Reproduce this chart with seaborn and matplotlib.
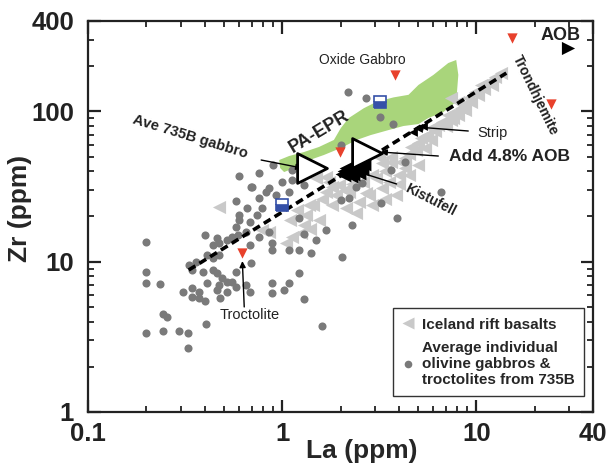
"""
La vs Zr (ppm) for 735B gabbros, Iceland rift basalts and PA-EPR field.
"""

import matplotlib
matplotlib.use("Agg")
import matplotlib.pyplot as plt
import seaborn as sns
from matplotlib.lines import Line2D
from matplotlib.patches import Polygon
from matplotlib.ticker import FixedLocator, NullFormatter

sns.set_theme(style="ticks")
plt.rcParams["font.family"] = ["Liberation Sans", "DejaVu Sans"]

# Average individual olivine gabbros & troctolites from 735B
GABBRO_LA = [0.60, 0.69, 0.58, 0.60, 0.60, 0.58, 0.66, 0.20, 0.40,
             0.46, 0.44, 0.475, 0.52, 0.555, 0.59, 0.65,
             0.41, 0.44, 0.475, 0.33, 0.36, 0.345, 0.20, 0.20, 0.234,
             0.39, 0.44, 0.46, 0.49, 0.52, 0.475, 0.555, 0.58,
             0.31, 0.345, 0.375, 0.41, 0.46, 0.52, 0.58, 0.65, 0.68,
             0.345, 0.20, 0.243, 0.293, 0.326, 0.326, 0.403, 0.243, 0.254, 0.375, 0.40, 0.48,
             0.90, 1.125, 0.70, 0.83, 1.0, 1.125, 1.30,
             0.76, 0.86, 0.93, 1.09, 0.79, 0.74, 0.68,
             1.22, 0.86, 0.89, 0.76, 0.68,
             1.68, 1.49, 1.30, 2.29, 3.22, 3.89,
             1.22, 1.41, 1.09, 2.03,
             0.89, 0.69, 1.22, 0.89, 1.09, 1.02, 0.89, 1.29,
             2.0, 2.2, 2.4, 2.57, 3.66, 4.32,
             1.60, 6.6, 2.18, 2.70, 3.18, 3.71, 2.01, 0.76]
GABBRO_ZR = [37.2, 31.4, 25.3, 20.5, 18.9, 17.0, 22.8, 13.5, 15.1,
             14.4, 12.9, 13.3, 13.9, 14.6, 15.1, 15.8,
             11.1, 10.6, 11.1, 9.5, 9.9, 8.8, 8.5, 7.2, 7.1,
             8.5, 8.8, 8.4, 7.8, 7.3, 7.0, 7.3, 8.5,
             6.3, 6.7, 6.3, 7.2, 6.5, 6.3, 6.8, 7.0, 6.3,
             5.8, 3.35, 3.46, 3.46, 3.35, 2.67, 3.85, 4.5, 4.3, 5.7, 5.5, 5.7,
             44.0, 40.7, 31.4, 29.1, 33.9, 35.0, 32.4,
             26.5, 31.0, 28.0, 29.0, 22.8, 20.5, 18.4,
             19.5, 15.8, 13.3, 14.6, 12.9,
             16.3, 13.9, 15.3, 17.5, 24.6, 19.5,
             12.0, 11.4, 12.0, 10.7,
             12.0, 9.8, 8.4, 7.2, 7.2, 6.5, 6.2, 5.65,
             25.7, 26.5, 31.4, 33.4, 40.7, 46.1,
             3.73, 29.1, 135, 123, 91.8, 82.4, 59.8, 38.9]

# Iceland rift basalts
ICELAND_LA = [1.49, 1.74, 1.96, 1.68, 1.89, 2.21, 2.48, 2.79, 3.26,
              3.54, 3.98, 4.32, 3.03, 3.85, 1.80, 2.13, 1.33, 1.37,
              1.125, 0.86, 1.05, 0.79, 3.66, 3.26, 4.32,
              5.22, 5.88, 6.38, 7.18, 7.80, 8.09, 9.10, 9.89, 10.6, 11.5, 12.5, 13.4, 7.45, 8.38, 5.47,
              3.14, 3.66, 4.64, 5.88, 7.45, 8.79, 1.68, 1.80, 0.475, 2.70,
              5.0, 5.6, 6.1, 6.7, 7.0, 7.6, 8.1, 8.6, 9.4, 10.2, 11.0, 12.0,
              4.9, 4.5, 4.1, 3.4, 2.9, 2.6, 2.3, 2.1, 1.6, 1.45, 1.2, 1.1,
              1.3, 1.55, 2.4, 2.9, 3.4, 4.5, 5.0, 4.0, 1.25, 1.4]
ICELAND_ZR = [36.0, 33.9, 32.4, 29.1, 27.8, 29.1, 25.0, 27.8, 30.9,
              33.9, 37.8, 42.0, 36.0, 27.8, 23.8, 22.8, 20.5, 23.8,
              14.6, 15.8, 13.3, 16.3, 46.1, 45.4, 49.0,
              66.5, 77.6, 81.3, 94.6, 99.0, 116, 123, 135, 150, 157, 169, 180, 123, 105, 57.1,
              49.8, 49.8, 58.0, 64.6, 87.7, 102, 36.6, 31.4, 23.1, 28.7,
              62, 70, 74, 85, 80, 90, 95, 110, 115, 128, 140, 150,
              55, 52, 46, 40, 38, 34, 33, 30, 26, 24, 22, 19,
              17.5, 19, 21, 24, 26, 38, 44, 33, 15.5, 16.5]

# Kistufell and Strip (black)
KISTUFELL_LA = [2.05, 2.2, 2.35, 2.5, 2.25, 2.45, 2.6, 2.15, 2.3, 2.4, 2.1, 2.55]
KISTUFELL_ZR = [38.5, 40.5, 42.5, 44.5, 37.5, 39.5, 45.5, 42.0, 39.0, 43.0, 40.0, 42.0]
STRIP_LA = [4.7, 5.0, 5.3]
STRIP_ZR = [73, 77, 80]

# Oxide gabbro, trondhjemite, troctolite (red)
RED_LA = [3.80, 1.98, 15.3, 24.3, 0.624]
RED_ZR = [175, 53.7, 308, 112, 11.4]

# blue squares
BLUE_LA = [1.0, 3.18]
BLUE_ZR = [23.8, 116]

# Ave 735B gabbro, Add 4.8% AOB
OPEN_LA = [1.425, 2.73]
OPEN_ZR = [42.0, 52.9]

AOB_LA = [29.6]
AOB_ZR = [264]

# mixing line
LINE_LA = [0.33, 14.3]
LINE_ZR = [8.8, 180]

# PA-EPR field outline
EPR_LA = [0.966, 1.086, 1.297, 1.548, 1.849, 2.008, 2.206, 2.634, 3.07, 3.75, 4.48, 5.04,
          6.02, 7.18, 7.89, 8.09, 7.89, 6.77, 5.67, 5.04, 4.22, 3.54, 2.858, 2.424,
          2.008, 1.642, 1.297, 1.153, 1.024, 0.977]
EPR_ZR = [47.5, 50.5, 53.7, 58.0, 64.6, 77.6, 90.4, 105, 116, 124, 129, 150,
          175, 210, 220, 175, 116, 99, 90.4, 82.4, 80.0, 75.2, 69.6, 64.6,
          57.1, 51.3, 46.1, 42.0, 39.5, 42.0]

X_TICKS = [0.1, 1, 10, 40]
Y_TICKS = [1, 10, 100, 400]

GRAY = "#7a7a7a"
LIGHT = "#c9c9c9"
RED = "#e8412c"
GREEN = "#a9d57b"
BLUE = "#3550a8"


def arrow(ax, start, end):
    ax.annotate("", xy=end, xytext=start,
                arrowprops=dict(arrowstyle="-|>", color="black", lw=1.0,
                                mutation_scale=9, shrinkA=0, shrinkB=0))


def main():
    fig = plt.figure(figsize=(6.1, 4.68), dpi=100)
    ax = fig.add_axes([0.1443, 0.1197, 0.8279, 0.8355])
    ax.set_xscale("log")
    ax.set_yscale("log")
    ax.set_xlim(0.1, 40)
    ax.set_ylim(1, 400)

    ax.add_patch(Polygon(list(zip(EPR_LA, EPR_ZR)), closed=True,
                         facecolor=GREEN, edgecolor="none", zorder=1))

    sns.scatterplot(x=ICELAND_LA, y=ICELAND_ZR, marker="<", s=90, color=LIGHT,
                    linewidth=0, ax=ax, zorder=2)
    sns.scatterplot(x=GABBRO_LA, y=GABBRO_ZR, marker="o", s=34, color=GRAY,
                    linewidth=0, ax=ax, zorder=3)
    sns.lineplot(x=LINE_LA, y=LINE_ZR, color="black", lw=2.6, ax=ax, zorder=4,
                 dashes=(2.2, 1.3), estimator=None, sort=False)
    sns.scatterplot(x=KISTUFELL_LA, y=KISTUFELL_ZR, marker="<", s=130, color="black",
                    linewidth=0, ax=ax, zorder=5)
    sns.scatterplot(x=STRIP_LA, y=STRIP_ZR, marker="<", s=40, color="black",
                    linewidth=0, ax=ax, zorder=5)
    sns.scatterplot(x=RED_LA, y=RED_ZR, marker="v", s=55, color=RED,
                    linewidth=0, ax=ax, zorder=5)
    sns.scatterplot(x=AOB_LA, y=AOB_ZR, marker=">", s=90, color="black",
                    linewidth=0, ax=ax, zorder=5)
    ax.plot(BLUE_LA, BLUE_ZR, ls="none", marker="s", ms=8, fillstyle="bottom",
            markerfacecolor=BLUE, markerfacecoloralt="white", mec=BLUE, mew=1.2, zorder=5)
    sns.scatterplot(x=OPEN_LA, y=OPEN_ZR, marker=">", s=460, color="white",
                    edgecolor="black", linewidth=2.0, ax=ax, zorder=6)

    # annotations
    tc = "#222222"
    ax.text(2.6, 220, "Oxide Gabbro", fontsize=10, color=tc, ha="center", va="center")
    ax.text(27.3, 322, "AOB", fontsize=13, fontweight="bold", color=tc, ha="center", va="center")
    ax.text(20.1, 129, "Trondhjemite", fontsize=10, fontweight="bold", color=tc,
            rotation=-64, ha="center", va="center")
    ax.text(1.55, 73, "PA-EPR", fontsize=13, fontweight="bold", color=tc,
            rotation=31, ha="center", va="center")
    ax.text(0.335, 67.6, "Ave 735B gabbro", fontsize=10.5, fontweight="bold", color=tc,
            rotation=-17, ha="center", va="center")
    ax.text(12.1, 71.8, "Strip", fontsize=10.5, color=tc, ha="center", va="center")
    ax.text(14.9, 49.8, "Add 4.8% AOB", fontsize=12.5, fontweight="bold", color=tc,
            ha="center", va="center")
    ax.text(5.8, 25.7, "Kistufell", fontsize=10, fontweight="bold", color=tc,
            rotation=-27, ha="center", va="center")
    ax.text(0.678, 4.42, "Troctolite", fontsize=10.5, color=tc, ha="center", va="center")

    arrow(ax, (0.78, 47.5), (1.27, 42.0))
    arrow(ax, (9.1, 74.1), (4.92, 78.8))
    arrow(ax, (6.38, 50.5), (3.22, 53.7))
    arrow(ax, (3.89, 32.9), (2.40, 40.1))
    arrow(ax, (0.638, 5.0), (0.624, 10.1))

    # axes and ticks
    ax.xaxis.set_major_locator(FixedLocator(X_TICKS))
    ax.set_xticklabels([str(t) for t in X_TICKS])
    ax.xaxis.set_minor_locator(FixedLocator(
        [m * d for d in (0.1, 1) for m in range(2, 10)] + [20, 30]))
    ax.xaxis.set_minor_formatter(NullFormatter())
    ax.yaxis.set_major_locator(FixedLocator(Y_TICKS))
    ax.set_yticklabels([str(t) for t in Y_TICKS])
    ax.yaxis.set_minor_locator(FixedLocator(
        [m * d for d in (1, 10) for m in range(2, 10)] + [200, 300]))
    ax.yaxis.set_minor_formatter(NullFormatter())

    ax.tick_params(which="both", direction="in", top=True, right=True, colors="#222222")
    ax.tick_params(which="major", length=9, width=1.6, labelsize=18.5)
    ax.tick_params(axis="x", which="major", pad=7)
    ax.tick_params(axis="y", which="major", pad=10)
    ax.tick_params(which="minor", length=4.5, width=1.3)
    for lab in ax.get_xticklabels() + ax.get_yticklabels():
        lab.set_fontweight("bold")
    for sp in ax.spines.values():
        sp.set_linewidth(1.6)
        sp.set_color("#222222")

    ax.set_xlabel("La (ppm)", fontsize=19, fontweight="bold")
    ax.xaxis.set_label_coords(0.543, -0.068)
    ax.set_ylabel("Zr (ppm)", fontsize=19, fontweight="bold")
    ax.yaxis.set_label_coords(-0.11, 0.52)

    handles = [
        Line2D([], [], ls="none", marker="<", ms=9, color=LIGHT, mec="none",
               label="Iceland rift basalts"),
        Line2D([], [], ls="none", marker="o", ms=5.5, color=GRAY, mec="none",
               label="Average individual\nolivine gabbros &\ntroctolites from 735B"),
    ]
    leg = ax.legend(handles=handles, loc="lower right", bbox_to_anchor=(0.982, 0.04),
                    fancybox=False, framealpha=1, edgecolor="#333333",
                    prop={"size": 11, "weight": "bold"}, handlelength=0.8,
                    handletextpad=0.5, borderpad=0.6, labelspacing=0.6,
                    borderaxespad=0)
    leg.get_frame().set_linewidth(1.0)

    fig.savefig("out.png", dpi=100)


if __name__ == "__main__":
    main()
